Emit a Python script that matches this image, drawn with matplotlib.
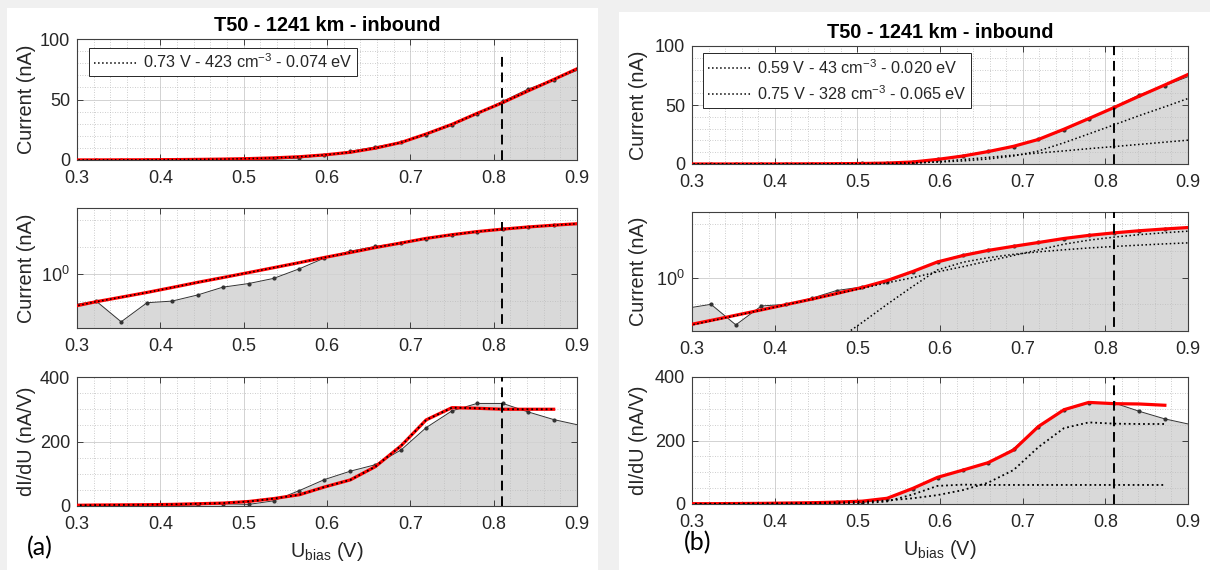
import numpy as np
import matplotlib.pyplot as plt
from matplotlib.patches import Rectangle
from matplotlib.ticker import MultipleLocator, FixedLocator, NullFormatter

plt.rcParams['font.family'] = ['Liberation Sans', 'DejaVu Sans']
plt.rcParams['mathtext.fontset'] = 'custom'
plt.rcParams['mathtext.rm'] = 'Liberation Sans'
plt.rcParams['mathtext.it'] = 'Liberation Sans:italic'
plt.rcParams['mathtext.bf'] = 'Liberation Sans:bold'

# bias voltage of the sweep points (V)
u_bias = [0.292, 0.323, 0.353, 0.384, 0.414, 0.445, 0.475, 0.506, 0.536, 0.567, 0.597,
          0.628, 0.658, 0.689, 0.719, 0.750, 0.780, 0.811, 0.841, 0.872, 0.902]

# measured current (nA) and its derivative (nA/V)
meas_current = [0.07, 0.1, 0.017, 0.087, 0.1, 0.17, 0.33, 0.45, 0.7, 1.6, 4.0,
                7.2, 10.8, 14.8, 21, 28.6, 38.3, 48.5, 58.5, 66.5, 74.5]
meas_didu = [0, 0, 0, 0, 1, 4, 7, 5, 16, 48, 82,
             108, 128, 174, 243, 295, 318, 318, 292, 268, 251]

# (a) single population fit
a_fit_current = [0.06, 0.095, 0.14, 0.21, 0.32, 0.5, 0.75, 1.15, 1.75, 2.7, 4.2,
                 6.4, 9.8, 14.5, 21.5, 29.5, 38.5, 47.5, 57, 66.5, 76]
a_fit_didu = [2, 3, 3.5, 4, 5, 7, 9, 14, 23, 35, 59,
              81, 122, 187, 267, 305, 303, 300, 300, 300]
a_labels = [r'0.73 V - 423 cm$^{-3}$ - 0.074 eV']

# (b) two population fit
b_fit_current = [0.016, 0.025, 0.039, 0.062, 0.098, 0.157, 0.255, 0.43, 0.78, 1.7, 3.9,
                 6.8, 10.5, 15, 20.8, 29.5, 38.5, 48, 57.5, 67, 76.5]
b_fit_didu = [1, 1, 1.5, 2, 3, 4, 6, 9, 18, 49, 84,
              107, 130, 170, 244, 297, 320, 316, 315, 311]
b_comp1_current = [1e-9, 1e-8, 1e-7, 1e-6, 1e-5, 0.0003, 0.0045, 0.021, 0.10, 0.47, 1.95,
                   3.8, 5.6, 7.5, 9.3, 11.1, 13.0, 14.8, 16.6, 18.5, 20.3]
b_comp2_current = [0.015, 0.024, 0.038, 0.061, 0.097, 0.155, 0.25, 0.40, 0.64, 1.0, 1.65,
                   2.6, 4.2, 6.8, 11, 18, 25.5, 33.3, 41, 48.5, 56]
b_comp1_didu = [0, 0, 0, 0, 0, 0, 0.5, 2, 8, 30, 57,
                61, 60, 60, 60, 60, 60, 60, 60, 60]
b_comp2_didu = [0.5, 0.8, 1.2, 1.8, 2.5, 3.5, 5, 7, 11, 18, 28,
                44, 67, 107, 179, 239, 257, 253, 252, 252]
b_labels = [r'0.59 V - 43 cm$^{-3}$ - 0.020 eV', r'0.75 V - 328 cm$^{-3}$ - 0.065 eV']

u_marker = 0.81
a_marker_top = [90, 90, 400]
b_marker_top = [100, 300, 400]

TXT = '#262626'
FILL = '#d9d9d9'


def style_axes(ax, log=False):
    ax.set_xlim(0.3, 0.9)
    ax.set_xticks([0.3, 0.4, 0.5, 0.6, 0.7, 0.8, 0.9])
    ax.xaxis.set_minor_locator(MultipleLocator(0.02))
    if log:
        ax.set_yscale('log')
        ax.set_ylim(0.01, 290)
        ax.yaxis.set_major_locator(FixedLocator([1]))
        ax.yaxis.set_minor_locator(FixedLocator([0.01, 0.1, 10, 100]))
        ax.yaxis.set_minor_formatter(NullFormatter())
    ax.set_axisbelow('line')
    ax.grid(True, which='major', color='#d2d2d2', lw=0.7, ls='-')
    ax.grid(True, which='minor', color='#bdbdbd', lw=0.6, ls=(0, (1, 2)))
    ax.tick_params(which='major', direction='in', length=4, width=0.6, top=True, right=True,
                   colors=TXT, labelsize=13)
    ax.tick_params(axis='x', which='major', pad=7.5)
    ax.tick_params(axis='y', which='major', pad=5)
    ax.tick_params(which='minor', length=0)
    for s in ax.spines.values():
        s.set_color('#404040')
        s.set_linewidth(0.8)


def draw_panel(pos, title, fit_I, fit_d, comps_I, comps_d, labels, marker_top, label_x, leg_anchor):
    ax1 = fig.add_axes(pos[0])
    ax2 = fig.add_axes(pos[1])
    ax3 = fig.add_axes(pos[2])
    n = len(fit_d)

    for ax, log in [(ax1, False), (ax2, True)]:
        ax.fill_between(u_bias, 1e-4 if log else 0, meas_current, color=FILL, lw=0, zorder=1)
        ax.plot(u_bias, meas_current, color='#333333', lw=0.7, marker='.', ms=4, zorder=2)
        ax.plot(u_bias, fit_I, color='red', lw=2.3, zorder=3)
        for comp, lab in zip(comps_I, labels):
            ax.plot(u_bias, comp, ls=':', color='k', lw=1.1, label=lab, zorder=4)
        style_axes(ax, log)
        ax.set_ylabel('Current (nA)', fontsize=14.3, color=TXT)

    ax1.set_ylim(0, 100)
    ax1.set_yticks([0, 50, 100])
    ax1.yaxis.set_minor_locator(MultipleLocator(10))
    ax1.plot([u_marker, u_marker], [0, marker_top[0]], color='k', lw=1.4, ls=(0, (5, 3)), zorder=5)
    ax2.plot([u_marker, u_marker], [1e-3, marker_top[1]], color='k', lw=1.4, ls=(0, (5, 3)), zorder=5)

    ax3.fill_between(u_bias, 0, meas_didu, color=FILL, lw=0, zorder=1)
    ax3.plot(u_bias, meas_didu, color='#333333', lw=0.7, marker='.', ms=4, zorder=2)
    ax3.plot(u_bias[:n], fit_d, color='red', lw=2.3, zorder=3)
    for comp in comps_d:
        ax3.plot(u_bias[:n], comp, ls=':', color='k', lw=1.3, zorder=4)
    ax3.plot([u_marker, u_marker], [0, marker_top[2]], color='k', lw=1.4, ls=(0, (5, 3)), zorder=5)
    style_axes(ax3)
    ax3.set_ylim(0, 400)
    ax3.set_yticks([0, 200, 400])
    ax3.yaxis.set_minor_locator(MultipleLocator(50))
    ax3.set_ylabel('dI/dU (nA/V)', fontsize=14.3, color=TXT)
    ax3.set_xlabel(r'U$_{\mathrm{bias}}$ (V)', fontsize=14.3, color=TXT, labelpad=5)

    for ax in (ax1, ax2, ax3):
        ax.yaxis.set_label_coords(label_x, 0.5)

    ax1.set_title(title, fontsize=14.3, fontweight='bold', color='k', pad=6)
    leg = ax1.legend(loc='upper left', bbox_to_anchor=leg_anchor, fontsize=11.7, fancybox=False,
                     framealpha=1, edgecolor='#262626', handlelength=2.7, handletextpad=0.3,
                     borderpad=0.3, labelspacing=0.45, borderaxespad=0)
    leg.get_frame().set_linewidth(0.7)
    for t in leg.get_texts():
        t.set_color(TXT)
    return ax1, ax2, ax3


W, H = 1210, 570
fig = plt.figure(figsize=(W / 100, H / 100), dpi=100, facecolor='#f0f0f0')
fig.add_artist(Rectangle((7 / W, 0), 591 / W, 562 / H, transform=fig.transFigure,
                         facecolor='white', edgecolor='none', zorder=-5))
fig.add_artist(Rectangle((619 / W, 0), 591 / W, 558 / H, transform=fig.transFigure,
                         facecolor='white', edgecolor='none', zorder=-5))


def px_rect(x0, x1, y0, y1):
    return [x0 / W, 1 - y1 / H, (x1 - x0) / W, (y1 - y0) / H]


pos_a = [px_rect(77, 577, 39, 160), px_rect(77, 577, 208, 328), px_rect(77, 577, 377, 506)]
pos_b = [px_rect(692, 1188, 46, 164), px_rect(692, 1188, 212, 331), px_rect(692, 1188, 377, 504)]

draw_panel(pos_a, 'T50 - 1241 km - inbound', a_fit_current, a_fit_didu,
           [a_fit_current], [a_fit_didu], a_labels, a_marker_top, -0.082, (0.024, 0.928))
draw_panel(pos_b, 'T50 - 1241 km - inbound', b_fit_current, b_fit_didu,
           [b_comp1_current, b_comp2_current], [b_comp1_didu, b_comp2_didu], b_labels,
           b_marker_top, -0.089, (0.022, 0.94))

fig.text(40 / W, 1 - 548 / H, '(a)', family='Lato', fontsize=18, color='k', ha='center', va='center')
fig.text(698 / W, 1 - 543 / H, '(b)', family='Lato', fontsize=18, color='k', ha='center', va='center')

fig.savefig('out.png', dpi=100, facecolor=fig.get_facecolor())
